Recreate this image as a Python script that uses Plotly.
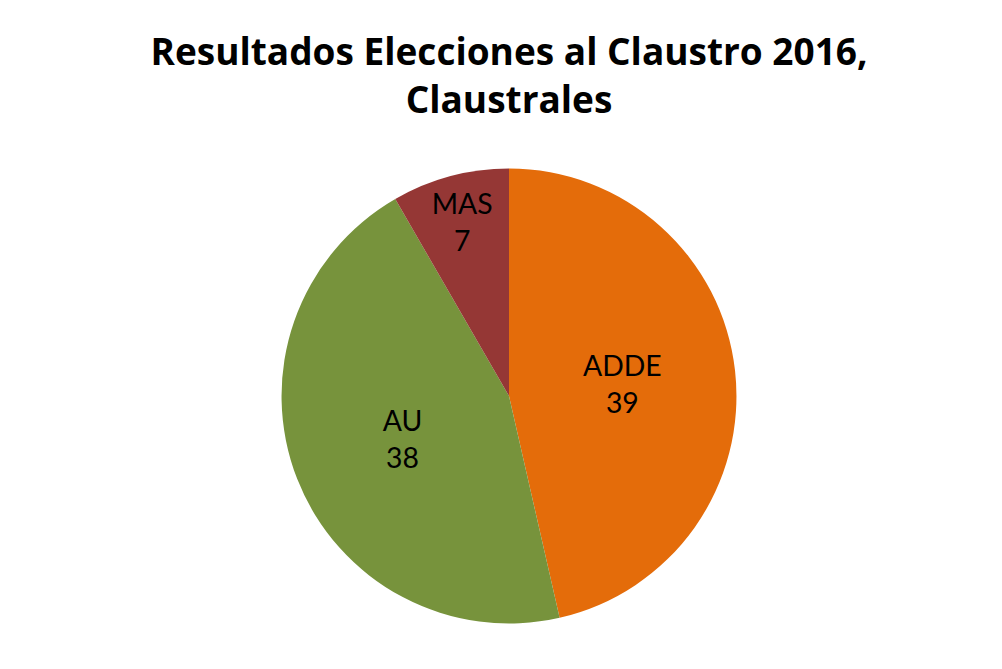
import plotly.graph_objects as go

labels = ["ADDE", "AU", "MAS"]
values = [39, 38, 7]
colors = ["#E46C0A", "#77933C", "#953735"]

fig = go.Figure(go.Pie(
    labels=labels,
    values=values,
    sort=False,
    direction="clockwise",
    rotation=0,
    marker=dict(colors=colors, line=dict(color="white", width=0)),
    texttemplate="%{label}<br>%{value}",
    textposition="inside",
    insidetextorientation="horizontal",
    textfont=dict(family="Lato, Open Sans, sans-serif", size=30, color="black"),
    showlegend=False,
    domain=dict(x=[0.05, 0.95], y=[0.08, 0.76]),
    hoverinfo="label+value+percent",
))

fig.update_layout(
    width=1002, height=669,
    paper_bgcolor="white",
    plot_bgcolor="white",
    margin=dict(l=0, r=0, t=0, b=0),
    title=dict(
        text="<b>Resultados Elecciones al Claustro 2016,<br>Claustrales</b>",
        x=0.5, xanchor="center",
        xref="paper", yref="container",
        y=0.915, yanchor="middle",
        font=dict(family="Open Sans, Lato, sans-serif", size=37, color="black"),
    ),
    uniformtext=dict(minsize=26, mode="show"),
)

fig.write_html("out.html")
